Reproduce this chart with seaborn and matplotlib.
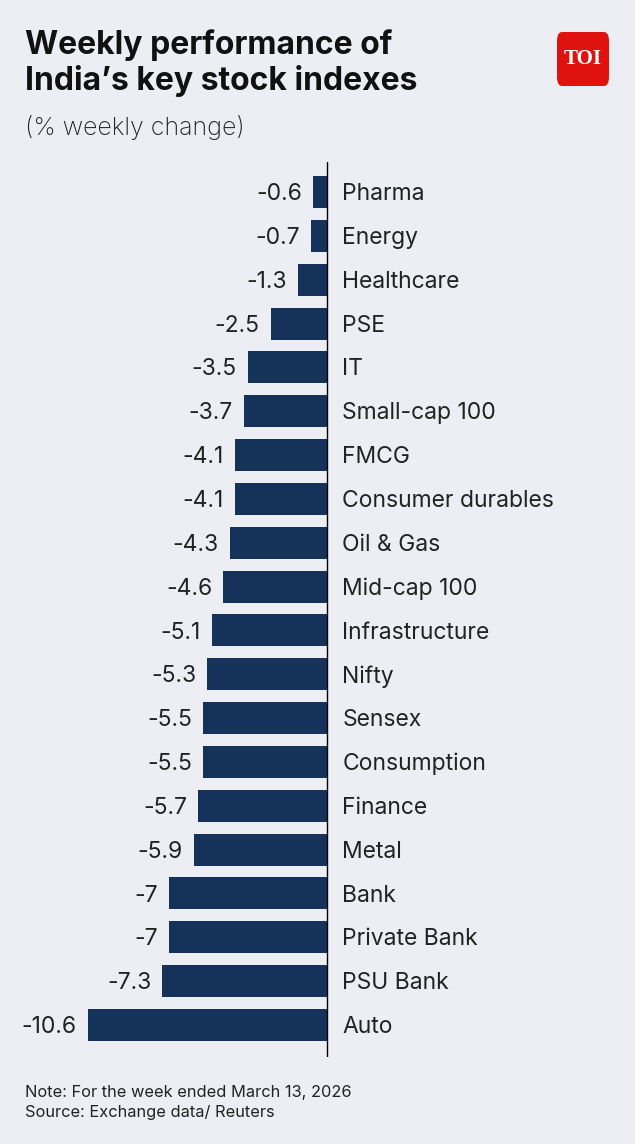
import numpy as np
import pandas as pd
import matplotlib
matplotlib.use("Agg")
import matplotlib.pyplot as plt
from matplotlib.patches import FancyBboxPatch
import seaborn as sns

categories = ["Pharma", "Energy", "Healthcare", "PSE", "IT", "Small-cap 100", "FMCG",
              "Consumer durables", "Oil & Gas", "Mid-cap 100", "Infrastructure", "Nifty",
              "Sensex", "Consumption", "Finance", "Metal", "Bank", "Private Bank",
              "PSU Bank", "Auto"]
values = [-0.6, -0.7, -1.3, -2.5, -3.5, -3.7, -4.1, -4.1, -4.3, -4.6, -5.1, -5.3,
          -5.5, -5.5, -5.7, -5.9, -7, -7, -7.3, -10.6]
value_labels = ["-0.6", "-0.7", "-1.3", "-2.5", "-3.5", "-3.7", "-4.1", "-4.1", "-4.3",
                "-4.6", "-5.1", "-5.3", "-5.5", "-5.5", "-5.7", "-5.9", "-7", "-7",
                "-7.3", "-10.6"]

BG = "#eceef4"
BAR = "#14325a"
W, H = 635, 1144

sns.set_theme(style="white")
plt.rcParams["font.family"] = ["Inter", "DejaVu Sans"]

df = pd.DataFrame({"index": categories, "change": values})

fig = plt.figure(figsize=(W / 100, H / 100), dpi=100)
fig.patch.set_facecolor(BG)

# axes spans the plot area; zero line sits at x=327px
top, bottom = 162, 1057
ax = fig.add_axes([0, 1 - bottom / H, 1, (bottom - top) / H])
ax.set_facecolor(BG)
sns.barplot(data=df, x="change", y="index", color=BAR, width=0.73,
            saturation=1, orient="h", linewidth=0, ax=ax)

px = 22.55  # pixels per unit
ax.set_xlim(-327 / px, (W - 327) / px)
step = (1025 - 192) / 19
ax.set_ylim(19 + (bottom - 1025) / step, -(192 - top) / step)
ax.axvline(0, color="black", lw=1.0)
for s in ax.spines.values():
    s.set_visible(False)
ax.set_xticks([])
ax.set_yticks([])
ax.set_xlabel("")
ax.set_ylabel("")

for i, (v, lab, cat) in enumerate(zip(values, value_labels, categories)):
    ax.annotate(lab, (v, i), xytext=(-8, -1.5), textcoords="offset points",
                ha="right", va="center", fontsize=16.5, color="#222222")
    ax.annotate(cat, (0, i), xytext=(11, -1.5), textcoords="offset points",
                ha="left", va="center", fontsize=16.5, color="#222222")

fig.text(25 / W, 1 - 45 / H, "Weekly performance of", fontsize=23, fontweight="bold",
         color="#111111", va="center", ha="left")
fig.text(25 / W, 1 - 81 / H, "India\u2019s key stock indexes", fontsize=23,
         fontweight="bold", color="#111111", va="center", ha="left")
fig.text(25 / W, 1 - 128 / H, "(% weekly change)", fontsize=18, fontweight="light",
         color="#222222", va="center", ha="left")

fig.text(25 / W, 1 - 1093 / H, "Note: For the week ended March 13, 2026", fontsize=11.8,
         color="#222222", va="center", ha="left")
fig.text(25 / W, 1 - 1113 / H, "Source: Exchange data/ Reuters", fontsize=11.8,
         color="#222222", va="center", ha="left")

# TOI logo
logo = FancyBboxPatch((557 / W, 1 - 86 / H), 52 / W, 54 / H,
                      boxstyle="round,pad=0,rounding_size=0.008",
                      transform=fig.transFigure, facecolor="#e0120f",
                      edgecolor="none")
fig.patches.append(logo)
fig.text(583 / W, 1 - 59 / H, "TOI", fontsize=15, fontweight="bold", color="white",
         family=["Liberation Serif", "DejaVu Serif"], ha="center", va="center")

fig.savefig("out.png", dpi=100, facecolor=BG)
